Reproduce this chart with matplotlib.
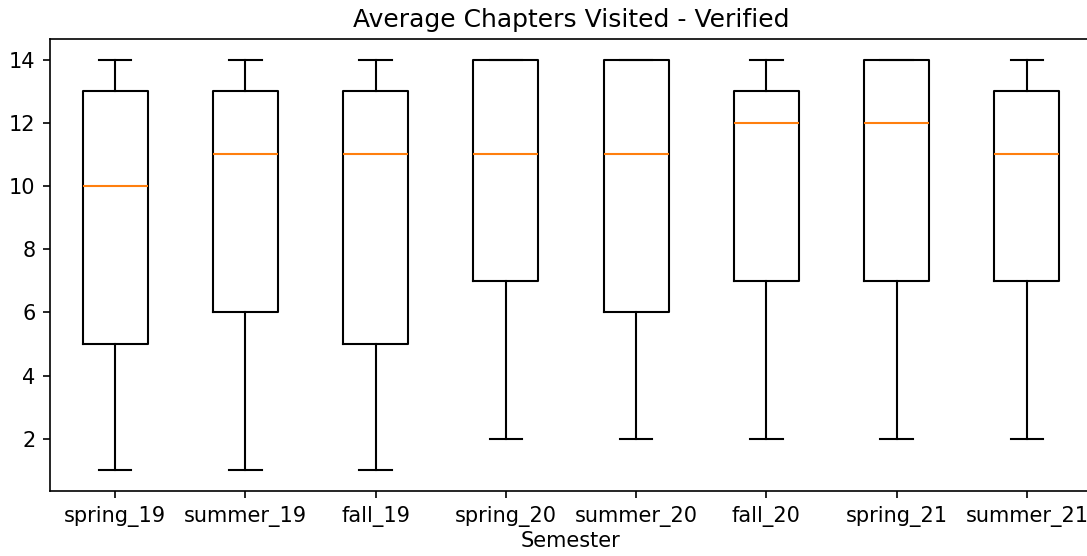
import matplotlib
matplotlib.use("Agg")
import matplotlib.pyplot as plt

# box statistics
semesters = ["spring_19", "summer_19", "fall_19", "spring_20",
             "summer_20", "fall_20", "spring_21", "summer_21"]
whislo = [1, 1, 1, 2, 2, 2, 2, 2]
q1 = [5, 6, 5, 7, 6, 7, 7, 7]
med = [10, 11, 11, 11, 11, 12, 12, 11]
q3 = [13, 13, 13, 14, 14, 13, 14, 13]
whishi = [14, 14, 14, 14, 14, 14, 14, 14]

stats = []
for i, name in enumerate(semesters):
    stats.append({
        "label": name,
        "whislo": whislo[i],
        "q1": q1[i],
        "med": med[i],
        "q3": q3[i],
        "whishi": whishi[i],
        "fliers": [],
    })

fig = plt.figure(figsize=(1087 / 150, 556 / 150), dpi=150)
# right edge of the axes sits at the image edge, as in the original crop
ax = fig.add_axes([50 / 1087, 65 / 556, 1042 / 1087, 452 / 556])
ax.bxp(stats, showfliers=False)
ax.spines["right"].set_visible(False)
ax.set_title("Average Chapters Visited - Verified")
ax.set_xlabel("Semester", labelpad=2)

fig.savefig("out.png", dpi=150)
